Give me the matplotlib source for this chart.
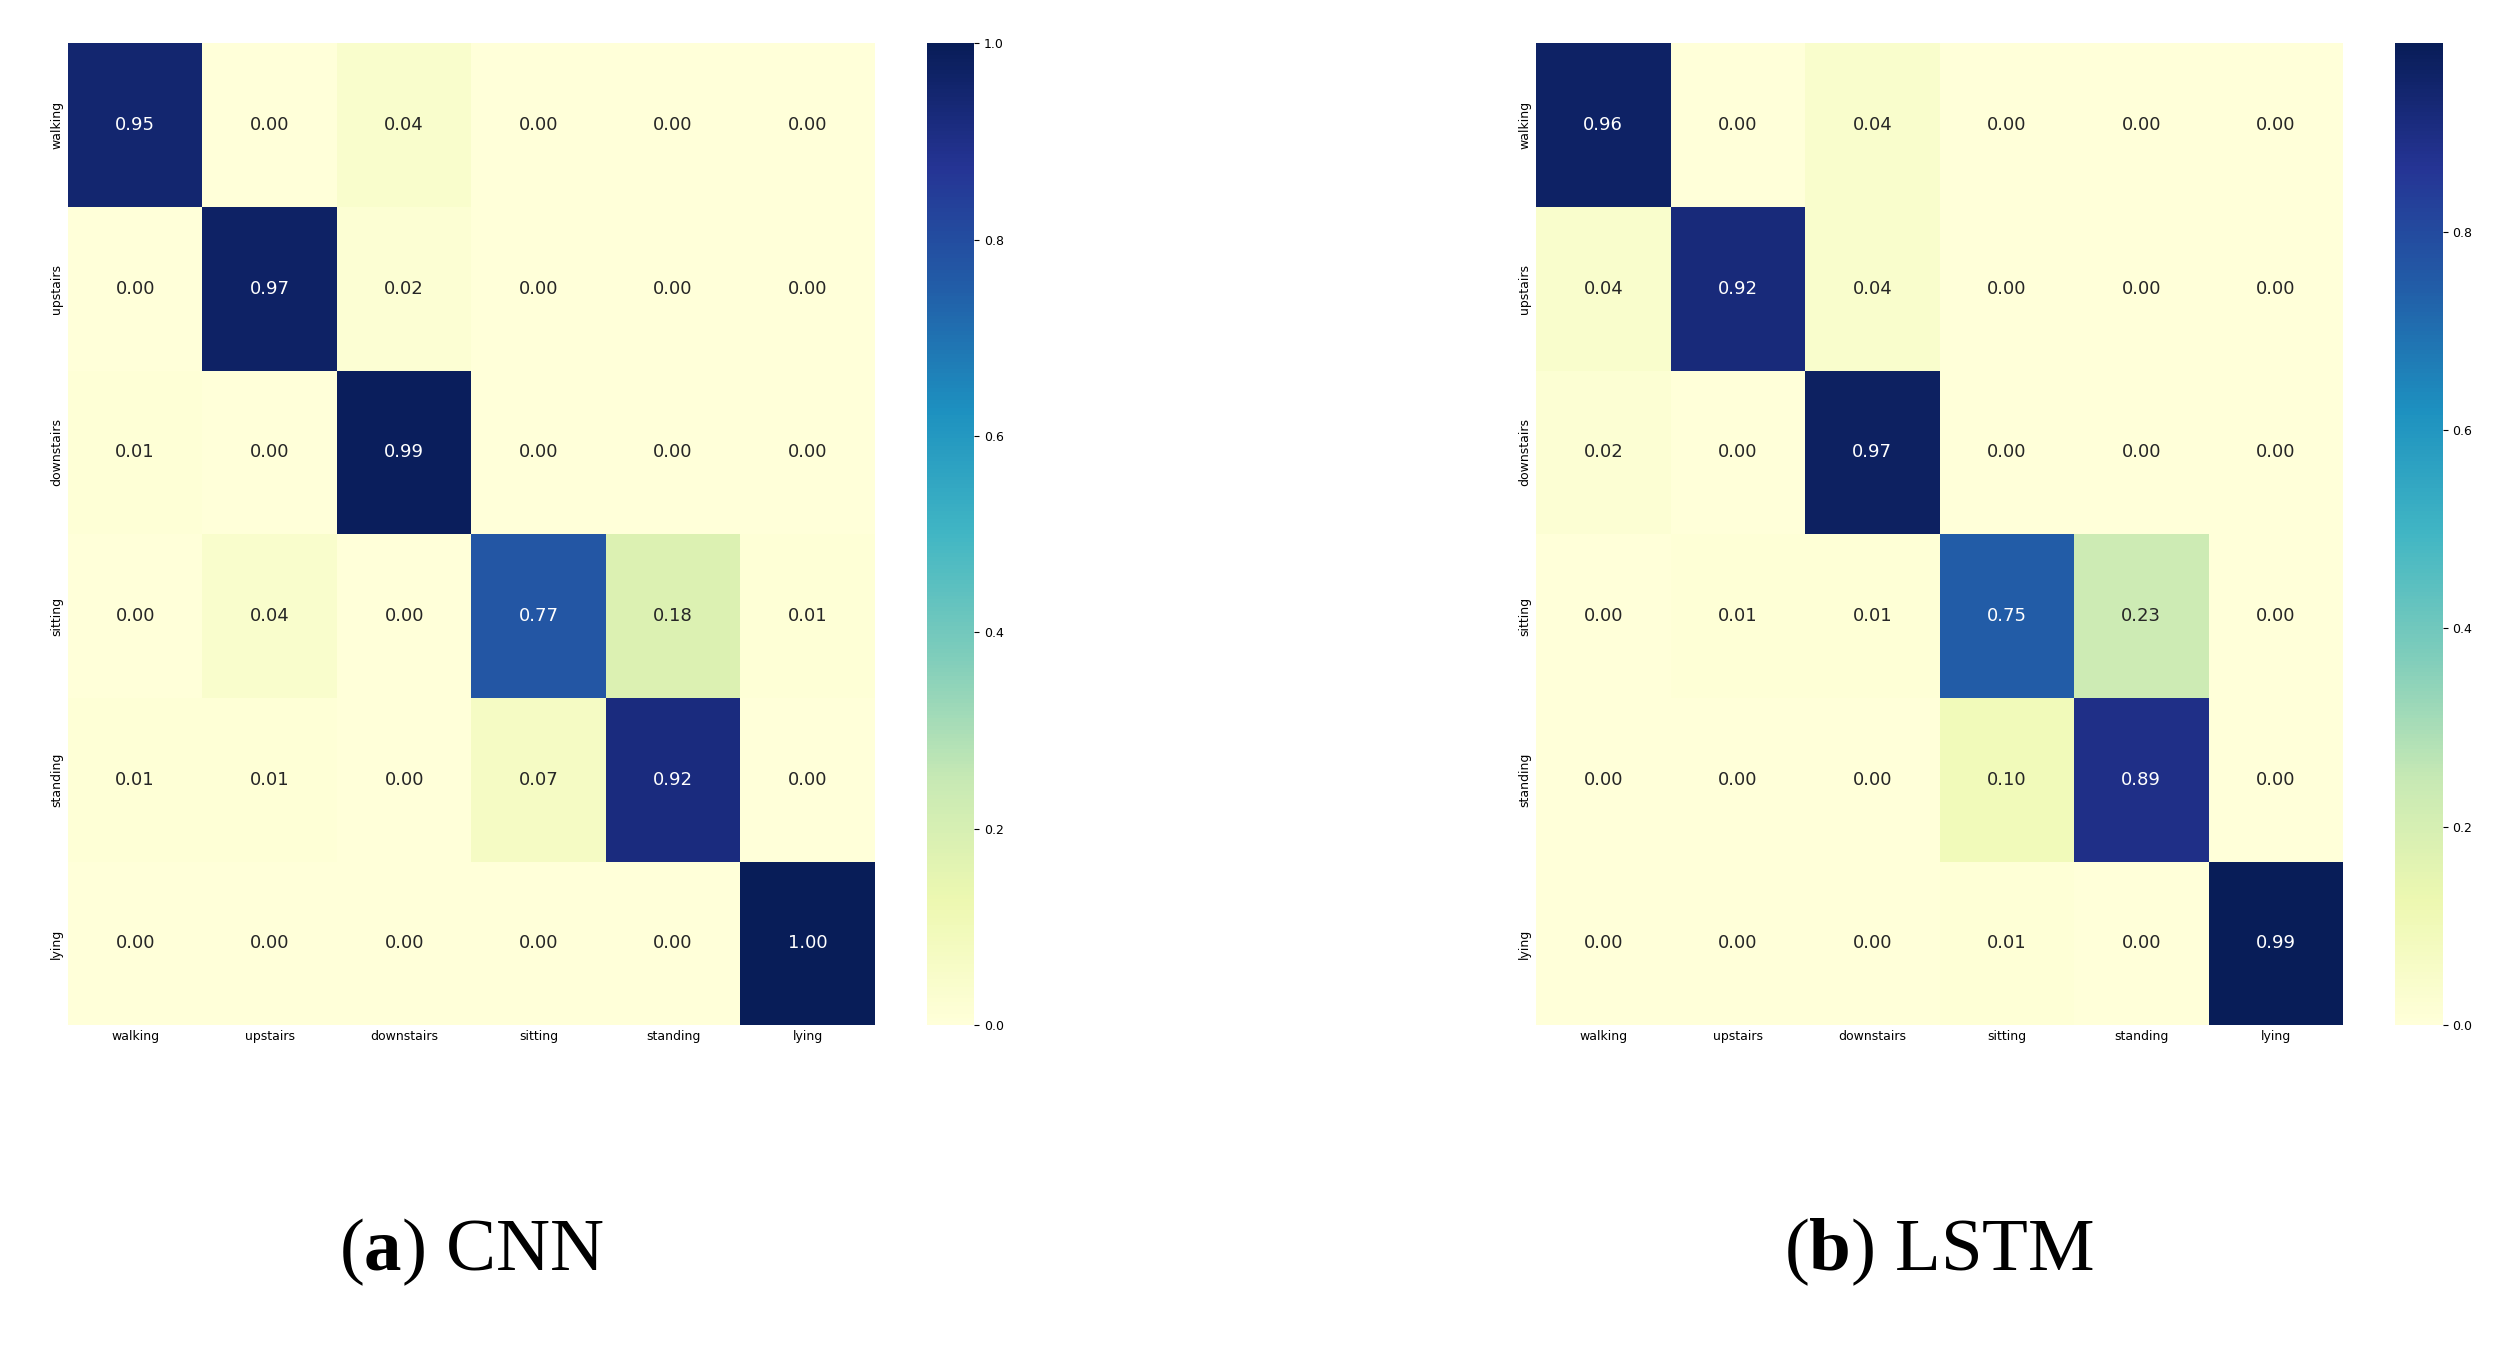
import numpy as np
import seaborn as sns
import matplotlib
matplotlib.use('Agg')
import matplotlib.pyplot as plt

labels = ['walking', 'upstairs', 'downstairs', 'sitting', 'standing', 'lying']
cnn = np.array([[0.95, 0.00, 0.04, 0.00, 0.00, 0.00],
                [0.00, 0.97, 0.02, 0.00, 0.00, 0.00],
                [0.01, 0.00, 0.99, 0.00, 0.00, 0.00],
                [0.00, 0.04, 0.00, 0.77, 0.18, 0.01],
                [0.01, 0.01, 0.00, 0.07, 0.92, 0.00],
                [0.00, 0.00, 0.00, 0.00, 0.00, 1.00]])
lstm = np.array([[0.96, 0.00, 0.04, 0.00, 0.00, 0.00],
                 [0.04, 0.92, 0.04, 0.00, 0.00, 0.00],
                 [0.02, 0.00, 0.97, 0.00, 0.00, 0.00],
                 [0.00, 0.01, 0.01, 0.75, 0.23, 0.00],
                 [0.00, 0.00, 0.00, 0.10, 0.89, 0.00],
                 [0.00, 0.00, 0.00, 0.01, 0.00, 0.99]])
captions = [('a', 'CNN'), ('b', 'LSTM')]

plt.rcParams['mathtext.fontset'] = 'custom'
plt.rcParams['mathtext.rm'] = 'Liberation Serif'
plt.rcParams['mathtext.bf'] = 'Liberation Serif:bold'

fig = plt.figure(figsize=(25.14, 13.49), dpi=100)
axes = [fig.add_axes([0.027, 0.240, 0.321, 0.728]),
        fig.add_axes([0.611, 0.240, 0.321, 0.728])]
caxes = [fig.add_axes([0.3686, 0.240, 0.019, 0.728]),
         fig.add_axes([0.9526, 0.240, 0.019, 0.728])]

for ax, cax, data, (letter, name) in zip(axes, caxes, [cnn, lstm], captions):
    sns.heatmap(data, ax=ax, cbar_ax=cax, cmap='YlGnBu', annot=True, fmt='.2f',
                annot_kws={'fontsize': 13}, xticklabels=labels, yticklabels=labels)
    ax.tick_params(axis='both', labelsize=9, length=0)
    ax.set_yticklabels(labels, rotation=90, va='center')
    cax.tick_params(labelsize=9)
    cb = ax.collections[0].colorbar
    cb.outline.set_visible(False)
    cx = (ax.get_position().x0 + ax.get_position().x1) / 2
    fig.text(cx, 0.045, r'($\mathbf{' + letter + r'}$) ' + name,
             ha='center', va='bottom', fontsize=54, family='Liberation Serif')

plt.savefig('out.png')
